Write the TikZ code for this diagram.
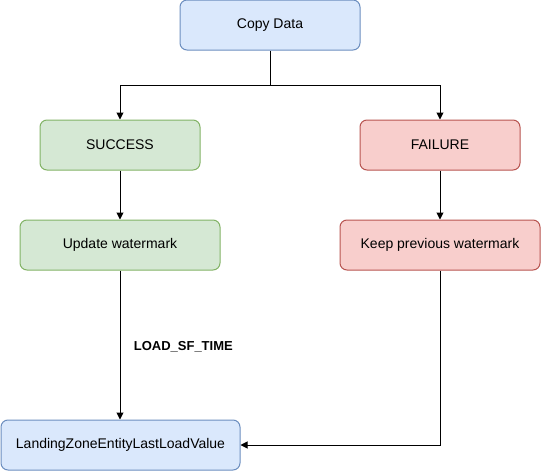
\documentclass[tikz,border=0pt]{standalone}
\usepackage{fontspec}
\setmainfont{Liberation Sans}
\usetikzlibrary{arrows.meta}
\definecolor{bfill}{HTML}{DAE8FC}\definecolor{bdraw}{HTML}{6C8EBF}
\definecolor{gfill}{HTML}{D5E8D4}\definecolor{gdraw}{HTML}{82B366}
\definecolor{rfill}{HTML}{F8CECC}\definecolor{rdraw}{HTML}{B85450}
\begin{document}
\begin{tikzpicture}[x=1pt,y=-1pt,
  box/.style={rounded corners=7pt,line width=1pt,minimum height=50pt,inner sep=0pt,font=\fontsize{14pt}{16pt}\selectfont},
  bluebox/.style={box,fill=bfill,draw=bdraw},
  greenbox/.style={box,fill=gfill,draw=gdraw},
  redbox/.style={box,fill=rfill,draw=rdraw},
  conn/.style={line width=1pt,-{Triangle[length=7pt,width=7pt]}}]
\useasboundingbox (0,0) rectangle (542,472);
\node[bluebox,minimum width=180pt] (copy) at (270,25) {Copy Data};
\node[greenbox,minimum width=160pt] (succ) at (120,145) {SUCCESS};
\node[redbox,minimum width=160pt] (fail) at (440,145) {FAILURE};
\node[greenbox,minimum width=200pt] (upd) at (120,245) {Update watermark};
\node[redbox,minimum width=200pt] (keep) at (440,245) {Keep previous watermark};
\node[bluebox,minimum width=239pt] (land) at (120.5,445) {LandingZoneEntityLastLoadValue};
\coordinate (split) at (270,85);
\draw[conn] (copy.south) -- (split) -| (succ.north);
\draw[conn] (split) -| (fail.north);
\draw[conn] (succ) -- (upd);
\draw[conn] (fail) -- (keep);
\draw[conn] (upd.south) -- node[right=10pt,yshift=-2pt,font=\fontsize{13pt}{15pt}\selectfont\bfseries] (lbl) {LOAD\_SF\_TIME} (land.north -| upd.south);
\draw[conn] (keep.south) |- (land.east);
\end{tikzpicture}
\end{document}
